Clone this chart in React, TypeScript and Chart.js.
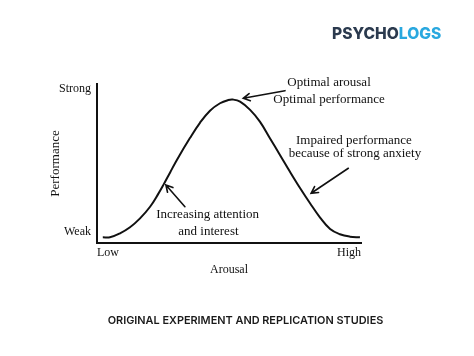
import React, { useEffect, useRef } from "react";
import { Chart, registerables } from "chart.js";

Chart.register(...registerables);

// Curve: arousal (x, 0-100) vs performance (y, 0-100)
const arousal = [2.2, 4.9, 8.7, 12.5, 16.3, 20.1, 23.2, 25.1, 27.7, 30.2, 35.2, 39.0, 42.8, 46.6, 49.7, 51.5, 54.2, 58.0, 61.7, 65.5, 69.3, 73.1, 76.9, 80.7, 84.5, 88.3, 92.0, 95.8, 99.6];
const performance = [3.6, 3.6, 6.1, 9.9, 15.5, 22.8, 30.9, 36.4, 44.4, 52.1, 66.0, 75.6, 83.2, 87.9, 89.9, 90.2, 88.9, 83.7, 76.3, 65.9, 55.4, 44.8, 34.6, 25.0, 16.0, 8.8, 5.5, 4.0, 3.6];

const xTickValues = [0, 100];
const xTickLabels = ["Low", "High"];
const yTickValues = [7, 97];
const yTickLabels = ["Weak", "Strong"];
const xTitle = "Arousal";
const yTitle = "Performance";

// Annotation texts (anchored in data units)
const noteTexts = [
  "Optimal arousal",
  "Optimal performance",
  "Impaired performance",
  "because of strong anxiety",
  "Increasing attention",
  "and interest",
];
const noteX = [87.9, 87.9, 97.3, 97.7, 41.9, 42.2];
const noteY = [100.6, 90.3, 64.5, 56.3, 17.6, 7.2];

// Arrows (tail -> head) in data units
const arrowFromX = [71.2, 95.2, 33.3];
const arrowFromY = [95.8, 47.0, 22.8];
const arrowToX = [55.4, 81.1, 26.1];
const arrowToY = [91.0, 31.3, 36.5];

const logoDark = "PSYCHO";
const logoLight = "LOGS";
const footerTitle = "ORIGINAL EXPERIMENT AND REPLICATION STUDIES";

const SERIF = "'Liberation Serif', 'Times New Roman', serif";

const notesPlugin = {
  id: "notes",
  afterDraw(chart: any) {
    const { ctx, scales } = chart;
    const x = scales.x;
    const y = scales.y;
    ctx.save();
    ctx.fillStyle = "#111";
    ctx.font = `13px ${SERIF}`;
    ctx.textAlign = "center";
    ctx.textBaseline = "middle";
    noteTexts.forEach((t, i) => {
      ctx.fillText(t, x.getPixelForValue(noteX[i]), y.getPixelForValue(noteY[i]));
    });
    ctx.strokeStyle = "#111";
    ctx.lineWidth = 1.6;
    ctx.lineCap = "round";
    arrowFromX.forEach((_, i) => {
      const x1 = x.getPixelForValue(arrowFromX[i]);
      const y1 = y.getPixelForValue(arrowFromY[i]);
      const x2 = x.getPixelForValue(arrowToX[i]);
      const y2 = y.getPixelForValue(arrowToY[i]);
      const ang = Math.atan2(y2 - y1, x2 - x1);
      const head = 7.5;
      const spread = 0.5;
      ctx.beginPath();
      ctx.moveTo(x1, y1);
      ctx.lineTo(x2, y2);
      ctx.moveTo(x2 - head * Math.cos(ang - spread), y2 - head * Math.sin(ang - spread));
      ctx.lineTo(x2, y2);
      ctx.lineTo(x2 - head * Math.cos(ang + spread), y2 - head * Math.sin(ang + spread));
      ctx.stroke();
    });
    ctx.restore();
  },
};

export default function App() {
  const canvasRef = useRef<HTMLCanvasElement | null>(null);

  useEffect(() => {
    if (!canvasRef.current) return;
    const chart = new Chart(canvasRef.current, {
      type: "scatter",
      data: {
        datasets: [
          {
            data: arousal.map((v, i) => ({ x: v, y: performance[i] })),
            showLine: true,
            borderColor: "#111",
            borderWidth: 2,
            pointRadius: 0,
            tension: 0.4,
            fill: false,
          },
        ],
      },
      options: {
        responsive: false,
        animation: false,
        events: [],
        layout: { padding: { left: 44, top: 84, right: 113, bottom: 75 } },
        plugins: { legend: { display: false }, tooltip: { enabled: false }, title: { display: false } },
        scales: {
          x: {
            type: "linear",
            min: 0,
            max: 100,
            afterBuildTicks: (s: any) => {
              s.ticks = xTickValues.map((v) => ({ value: v }));
            },
            afterFit: (s: any) => {
              s.height = 38;
            },
            grid: { display: false, drawTicks: false },
            border: { display: true, color: "#111", width: 2 },
            ticks: {
              autoSkip: false,
              maxRotation: 0,
              align: "inner",
              padding: 3,
              color: "#111",
              font: { family: SERIF, size: 12 },
              callback: (_v: any, i: number) => xTickLabels[i],
            },
            title: {
              display: true,
              text: xTitle,
              color: "#111",
              font: { family: SERIF, size: 12 },
              padding: { top: 0, bottom: 4 },
            },
          },
          y: {
            type: "linear",
            min: 0,
            max: 100,
            afterBuildTicks: (s: any) => {
              s.ticks = yTickValues.map((v) => ({ value: v }));
            },
            afterFit: (s: any) => {
              s.width = 53;
            },
            grid: { display: false, drawTicks: false },
            border: { display: true, color: "#111", width: 2 },
            ticks: {
              autoSkip: false,
              padding: 6,
              color: "#111",
              font: { family: SERIF, size: 12 },
              callback: (_v: any, i: number) => yTickLabels[i],
            },
            title: {
              display: true,
              text: yTitle,
              color: "#111",
              font: { family: SERIF, size: 13 },
              padding: { top: 4, bottom: 0 },
            },
          },
        },
      },
      plugins: [notesPlugin],
    } as any);
    return () => chart.destroy();
  }, []);

  return (
    <div style={{ position: "absolute", left: 0, top: 0, width: 474, height: 356, background: "#fff" }}>
      <canvas ref={canvasRef} width={474} height={356} style={{ width: 474, height: 356, display: "block" }} />
      <div
        style={{
          position: "absolute",
          left: 332,
          top: 24,
          fontFamily: "Inter, 'Noto Sans', sans-serif",
          fontWeight: 800,
          fontSize: 15.6,
          lineHeight: "20px",
          whiteSpace: "nowrap",
        }}
      >
        <span style={{ color: "#2b3a4e" }}>{logoDark}</span>
        <span style={{ color: "#2aa8df" }}>{logoLight}</span>
      </div>
      <div
        style={{
          position: "absolute",
          left: 0,
          width: 491,
          top: 313,
          textAlign: "center",
          fontFamily: "Inter, 'Noto Sans', sans-serif",
          fontWeight: 600,
          fontSize: 10.9,
          lineHeight: "14px",
          color: "#1a1a1a",
          whiteSpace: "nowrap",
        }}
      >
        {footerTitle}
      </div>
    </div>
  );
}
